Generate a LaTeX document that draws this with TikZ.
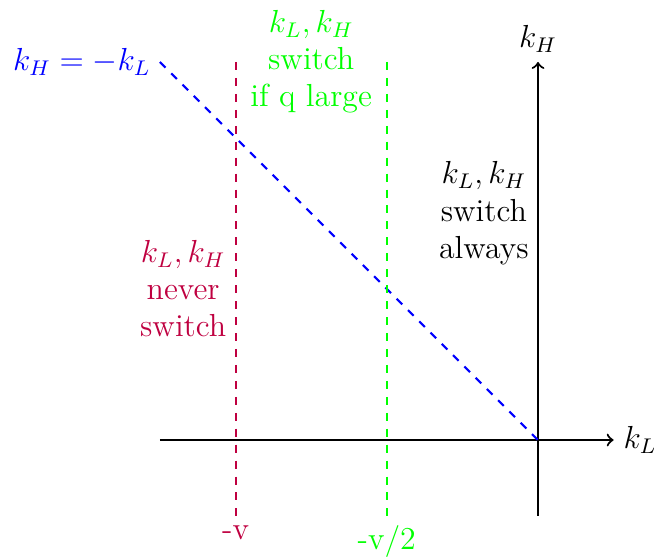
\documentclass[tikz,border=0pt]{standalone}
\begin{document}
\begin{tikzpicture}[font=\large,
  axis/.style={thick,->},
  guide/.style={thick,dashed},
  lbl/.style={align=center}]
\useasboundingbox (-7.116,-1.534) rectangle (1.534,5.82);
% coordinates
\coordinate (xl) at (-5,0);
\coordinate (xr) at (1,0);
\coordinate (yb) at (0,-1);
\coordinate (yt) at (0,5);
\coordinate (o) at (0,0);
\coordinate (bs) at (-5,5);
\coordinate (mt) at (-4,5);
\coordinate (mb) at (-4,-1);
\coordinate (gt) at (-2,5);
\coordinate (gb) at (-2,-1);
% axes
\draw[axis] (xl) -- (xr) node[right] (kl) {$k_L$};
\draw[axis] (yb) -- (yt) node[above] (kh) {$k_H$};
% diagonal
\draw[guide,blue] (bs) -- (o);
\node[left,blue] (diag) at (bs) {$k_H=-k_L$};
% vertical guides
\draw[guide,purple] (mt) -- (mb) node[below] (mv) {-v};
\draw[guide,green] (gt) -- (gb) node[below] (gv) {-v/2};
% region labels
\node[lbl,green] (gtext) at (-3,5) {$k_L,k_H$\\switch\\if q large};
\node[lbl,left] (btext) at (0,3) {$k_L,k_H$\\switch\\always};
\node[lbl,left,purple] (ptext) at (-4,2) {$k_L,k_H$\\never\\switch};
\end{tikzpicture}
\end{document}
